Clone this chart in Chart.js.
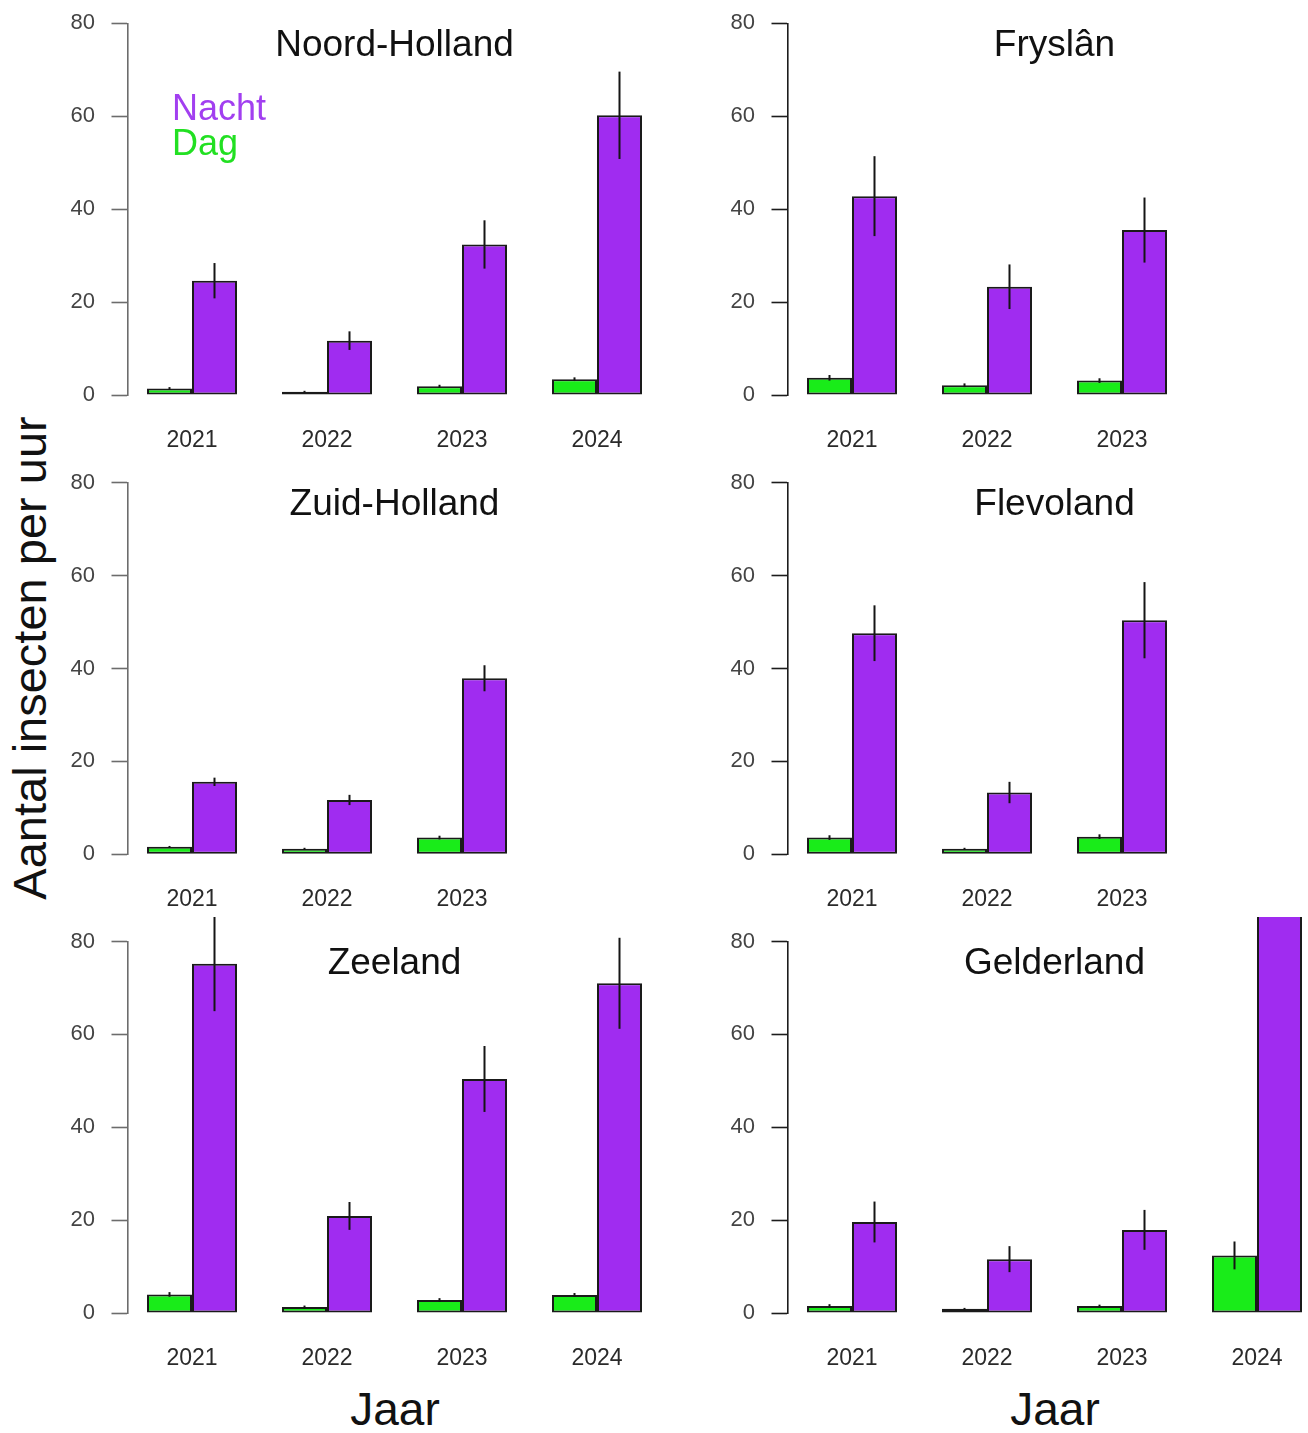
<!DOCTYPE html>
<html>
<head>
<meta charset="utf-8">
<title>Aantal insecten per uur</title>
<script src="https://cdn.jsdelivr.net/npm/chart.js@4.4.1/dist/chart.umd.min.js"></script>
<style>
  html, body { margin: 0; padding: 0; background: #ffffff; }
  #fig {
    position: relative;
    width: 1308px;
    height: 1433px;
    overflow: hidden;
    background: #ffffff;
    font-family: "Liberation Sans", Arial, Helvetica, sans-serif;
  }
  #fig canvas { position: absolute; }
  .axis-title {
    position: absolute;
    color: #111111;
    white-space: nowrap;
    line-height: 1;
    font-family: "Liberation Sans", Arial, Helvetica, sans-serif;
  }
</style>
</head>
<body>
<div id="fig">
  <div class="axis-title" id="ylab">Aantal insecten per uur</div>
  <div class="axis-title" id="xlab1">Jaar</div>
  <div class="axis-title" id="xlab2">Jaar</div>
</div>
<script>
// ---- data ---------------------------------------------------------------
const years = ['2021', '2022', '2023', '2024'];
const provinces = ['Noord-Holland', 'Fryslân', 'Zuid-Holland', 'Flevoland', 'Zeeland', 'Gelderland'];
const seriesNames = ['Dag', 'Nacht'];
const yTicks = [0, 20, 40, 60, 80];

// mean number of insects per hour, with standard error (null = no sampling that year)
const dagNoordHolland     = [1.4, 0.7, 1.9, 3.4];
const dagNoordHollandSe   = [0.3, 0.2, 0.3, 0.4];
const nachtNoordHolland   = [24.6, 11.7, 32.4, 60.2];
const nachtNoordHollandSe = [3.8, 2.0, 5.2, 9.4];

const dagFryslan     = [3.7, 2.1, 3.1, null];
const dagFryslanSe   = [0.6, 0.4, 0.5, null];
const nachtFryslan   = [42.8, 23.3, 35.5, null];
const nachtFryslanSe = [8.6, 4.8, 7.0, null];

const dagZuidHolland     = [1.6, 1.2, 3.6, null];
const dagZuidHollandSe   = [0.2, 0.2, 0.4, null];
const nachtZuidHolland   = [15.6, 11.7, 37.9, null];
const nachtZuidHollandSe = [0.9, 1.1, 2.8, null];

const dagFlevoland     = [3.6, 1.2, 3.8, null];
const dagFlevolandSe   = [0.5, 0.2, 0.5, null];
const nachtFlevoland   = [47.6, 13.3, 50.4, null];
const nachtFlevolandSe = [6.0, 2.3, 8.2, null];

const dagZeeland     = [4.0, 1.3, 2.8, 3.9];
const dagZeelandSe   = [0.5, 0.3, 0.4, 0.4];
const nachtZeeland   = [75.2, 20.9, 50.4, 71.0];
const nachtZeelandSe = [10.2, 3.0, 7.1, 9.8];

const dagGelderland     = [1.5, 0.9, 1.5, 12.4];
const dagGelderlandSe   = [0.4, 0.2, 0.3, 3.0];
const nachtGelderland   = [19.6, 11.6, 17.9, 100.0];
const nachtGelderlandSe = [4.4, 2.8, 4.3, 12.0];

// ---- styling & layout ---------------------------------------------------
const FONT = '"Liberation Sans", Arial, Helvetica, sans-serif';
const GREEN = '#19ec19';
const PURPLE = '#a02cf0';
const EDGE = '#1a1a1a';

const CANVAS_W = 680, CANVAS_H = 459;
const COL_LEFT = [0, 660];
const ROW_TOP = [0, 459, 917];
const AREA_TOP = [23.3, 23.7, 24.5];
const AREA_BOTTOM = [395, 395.3, 396];
const AXIS_W = 127.5;          // y-axis band width (axis line sits at its right edge)
const SLOT = 135;              // pixels per year slot
const FIRST_CENTER = 64.5;     // first group centre, measured from the axis line
const AXIS_COLOR = ['#6c6c6c', '#1c1c1c'];

const panels = [
  { name: provinces[0], col: 0, row: 0, dag: dagNoordHolland, dagSe: dagNoordHollandSe, nacht: nachtNoordHolland, nachtSe: nachtNoordHollandSe, key: true },
  { name: provinces[1], col: 1, row: 0, dag: dagFryslan, dagSe: dagFryslanSe, nacht: nachtFryslan, nachtSe: nachtFryslanSe },
  { name: provinces[2], col: 0, row: 1, dag: dagZuidHolland, dagSe: dagZuidHollandSe, nacht: nachtZuidHolland, nachtSe: nachtZuidHollandSe },
  { name: provinces[3], col: 1, row: 1, dag: dagFlevoland, dagSe: dagFlevolandSe, nacht: nachtFlevoland, nachtSe: nachtFlevolandSe },
  { name: provinces[4], col: 0, row: 2, dag: dagZeeland, dagSe: dagZeelandSe, nacht: nachtZeeland, nachtSe: nachtZeelandSe },
  { name: provinces[5], col: 1, row: 2, dag: dagGelderland, dagSe: dagGelderlandSe, nacht: nachtGelderland, nachtSe: nachtGelderlandSe }
];

// bar points on a linear year-index axis, each carrying its standard error
function toPoints(values, errors) {
  const pts = [];
  values.forEach((v, i) => {
    if (v !== null && v !== undefined) pts.push({ x: i, y: v, se: errors[i] });
  });
  return pts;
}

// vertical mean ± SE whiskers through the middle of each bar (no caps)
const errorBars = {
  id: 'errorBars',
  afterDatasetsDraw(chart) {
    const { ctx } = chart;
    const y = chart.scales.y;
    ctx.save();
    ctx.strokeStyle = '#151515';
    ctx.lineWidth = 2;
    ctx.lineCap = 'butt';
    chart.data.datasets.forEach((ds, di) => {
      const meta = chart.getDatasetMeta(di);
      meta.data.forEach((bar, j) => {
        const p = ds.data[j];
        if (!p || p.se == null) return;
        ctx.beginPath();
        ctx.moveTo(bar.x, y.getPixelForValue(p.y - p.se));
        ctx.lineTo(bar.x, y.getPixelForValue(p.y + p.se));
        ctx.stroke();
      });
    });
    ctx.restore();
  }
};

// province name printed inside the top of the plot region
const panelTitle = {
  id: 'panelTitle',
  afterDraw(chart, args, opts) {
    const { ctx, chartArea, scales } = chart;
    ctx.save();
    ctx.font = opts.size + 'px ' + FONT;
    ctx.fillStyle = '#111111';
    ctx.textAlign = 'center';
    ctx.textBaseline = 'alphabetic';
    const cx = scales.x.getPixelForValue((years.length - 1) / 2);
    ctx.fillText(opts.text, cx, chartArea.top + opts.offset);
    ctx.restore();
  }
};

// coloured text key (Nacht / Dag)
const panelKey = {
  id: 'panelKey',
  afterDraw(chart, args, opts) {
    if (!opts.show) return;
    const { ctx, chartArea } = chart;
    ctx.save();
    ctx.font = opts.size + 'px ' + FONT;
    ctx.textAlign = 'left';
    ctx.textBaseline = 'alphabetic';
    opts.items.forEach((it, k) => {
      ctx.fillStyle = it.color;
      ctx.fillText(it.text, chartArea.left + opts.dx, chartArea.top + opts.dy + k * opts.step);
    });
    ctx.restore();
  }
};

const fig = document.getElementById('fig');

panels.forEach((p) => {
  const cv = document.createElement('canvas');
  cv.width = CANVAS_W;
  cv.height = CANVAS_H;
  cv.style.left = COL_LEFT[p.col] + 'px';
  cv.style.top = ROW_TOP[p.row] + 'px';
  cv.style.width = CANVAS_W + 'px';
  cv.style.height = CANVAS_H + 'px';
  fig.appendChild(cv);

  const plotW = CANVAS_W - AXIS_W - 15.5;
  const xMin = -FIRST_CENTER / SLOT;
  const xMax = xMin + plotW / SLOT;
  const axisColor = AXIS_COLOR[p.col];
  const hasYear = years.map((y, i) => p.nacht[i] !== null || p.dag[i] !== null);

  const barCommon = {
    borderColor: EDGE,
    borderWidth: 2,
    borderSkipped: false,
    categoryPercentage: 2 / 3,
    barPercentage: 1,
    clip: false
  };

  new Chart(cv, {
    type: 'bar',
    data: {
      datasets: [
        Object.assign({ label: seriesNames[0], data: toPoints(p.dag, p.dagSe), backgroundColor: GREEN }, barCommon),
        Object.assign({ label: seriesNames[1], data: toPoints(p.nacht, p.nachtSe), backgroundColor: PURPLE }, barCommon)
      ]
    },
    options: {
      responsive: false,
      animation: false,
      devicePixelRatio: 1,
      events: [],
      layout: { padding: { top: AREA_TOP[p.row], right: 15.5, left: 0, bottom: 0 } },
      plugins: {
        legend: { display: false },
        tooltip: { enabled: false },
        panelTitle: { text: p.name, size: 37, offset: 32.5 },
        panelKey: {
          show: !!p.key, size: 36, dx: 44.5, dy: 96.5, step: 35,
          items: [{ text: seriesNames[1], color: '#a23ff0' }, { text: seriesNames[0], color: '#22e022' }]
        }
      },
      scales: {
        x: {
          type: 'linear',
          offset: false,
          min: xMin,
          max: xMax,
          grid: { display: false, drawTicks: false },
          border: { display: false },
          afterBuildTicks: (s) => { s.ticks = years.map((y, i) => ({ value: i })); },
          afterFit: (s) => { s.height = CANVAS_H - AREA_BOTTOM[p.row]; },
          ticks: {
            autoSkip: false,
            maxRotation: 0,
            padding: 32,
            color: '#2a2a2a',
            font: { family: FONT, size: 23 },
            callback: (v) => (hasYear[v] ? years[v] : '')
          }
        },
        y: {
          min: 0,
          max: 80,
          afterBuildTicks: (s) => { s.ticks = yTicks.map((v) => ({ value: v })); },
          afterFit: (s) => { s.width = AXIS_W; s.paddingTop = 0; s.paddingBottom = 0; },
          grid: {
            drawOnChartArea: false,
            drawTicks: true,
            tickLength: 16,
            tickWidth: 1.6,
            tickColor: axisColor
          },
          border: { display: true, color: axisColor, width: 1.6 },
          ticks: {
            padding: 16.5,
            color: '#444444',
            font: { family: FONT, size: 22 }
          }
        }
      }
    },
    plugins: [errorBars, panelTitle, panelKey]
  });
});

// shared axis titles
function place(el, cx, cy, size, rotate) {
  el.style.fontSize = size + 'px';
  el.style.left = cx + 'px';
  el.style.top = cy + 'px';
  el.style.transform = 'translate(-50%, -50%)' + (rotate ? ' rotate(-90deg)' : '');
}
place(document.getElementById('ylab'), 29, 657.5, 47, true);
place(document.getElementById('xlab1'), 395, 1409, 46, false);
place(document.getElementById('xlab2'), 1055, 1409, 46, false);
</script>
</body>
</html>
